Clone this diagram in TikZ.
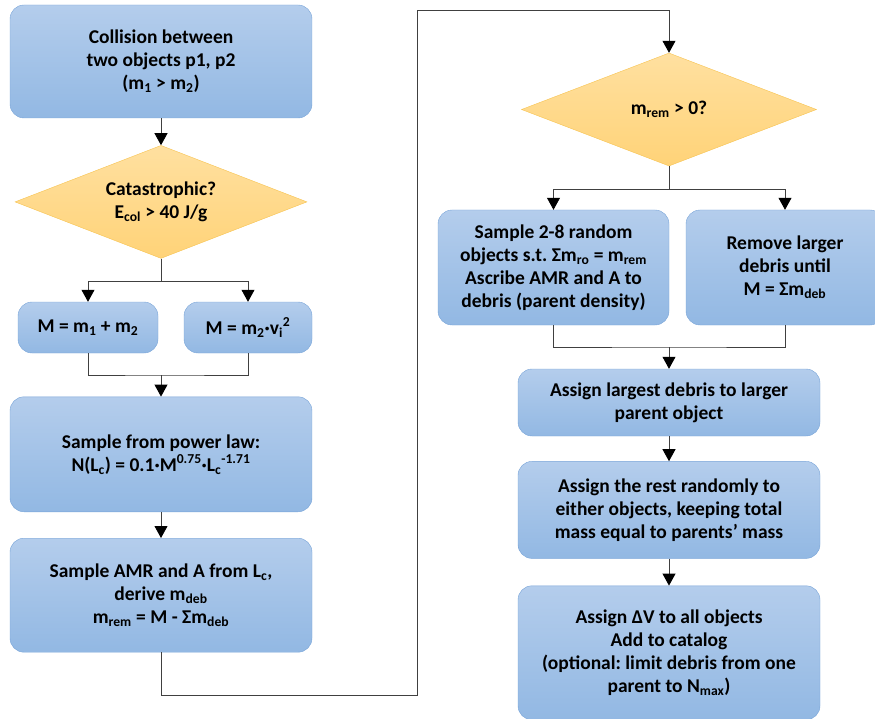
\documentclass[tikz,border=0pt]{standalone}
\usepackage{fontspec}
\setmainfont{Carlito}
\frenchspacing
\usetikzlibrary{positioning, arrows.meta, shapes.geometric}
\definecolor{boxtop}{RGB}{180,205,236}
\definecolor{boxbot}{RGB}{146,184,227}
\definecolor{boxline}{RGB}{120,164,216}
\definecolor{dectop}{RGB}{255,224,160}
\definecolor{decbot}{RGB}{255,211,120}
\definecolor{decline}{RGB}{247,195,80}
\definecolor{wire}{RGB}{64,64,64}
\tikzset{
  box/.style={
    draw=boxline,
    rectangle,
    rounded corners=14pt,
    top color=boxtop,
    bottom color=boxbot,
    align=center,
    inner sep=2pt,
    font=\fontsize{19.5}{23}\selectfont\bfseries
  },
  decision/.style={
    draw=decline,
    diamond,
    aspect=2.6,
    inner sep=0pt,
    top color=dectop,
    bottom color=decbot,
    align=center,
    font=\fontsize{19.5}{23}\selectfont\bfseries
  },
  flow/.style={
    draw=wire,
    line width=0.8pt,
    -{Triangle[width=13pt,length=12pt,black]}
  },
  wireline/.style={
    draw=wire,
    line width=0.8pt
  }
}

\begin{document}
\begin{tikzpicture}[x=1pt, y=1pt]
        \useasboundingbox (0,0) rectangle (875,-719);
        % left column
        \node[box, minimum width=302pt, minimum height=113pt] (coll) at (161,-61.5) {Collision between\\two objects p1, p2\\(m\textsubscript{1} > m\textsubscript{2})};
        \node[decision, minimum width=292pt, minimum height=113pt, below=27pt of coll] (cat) {Catastrophic?\\E\textsubscript{col} > 40 J/g};
        \node[box, minimum width=140pt, minimum height=51pt] (madd) at (88,-327.5) {M = m\textsubscript{1} + m\textsubscript{2}};
        \node[box, minimum width=128pt, minimum height=51pt] (msq) at (248,-327.5) {M = m\textsubscript{2}·v\textsubscript{i}\textsuperscript{2}};
        \node[box, minimum width=302pt, minimum height=115pt, below=138pt of cat] (pl) {Sample from power law:\\N(L\textsubscript{c}) = 0.1·M\textsuperscript{0.75}·L\textsubscript{c}\textsuperscript{-1.71}};
        \node[box, minimum width=302pt, minimum height=114pt, below=26pt of pl] (amr) {Sample AMR and A from L\textsubscript{c},\\derive m\textsubscript{deb}\\m\textsubscript{rem} = M - Σm\textsubscript{deb}};
        \coordinate (join1) at (161,-375);
        \coordinate (loopa) at (417,-695);
        \coordinate (loopb) at (417,-10);
        % right column
        \node[decision, minimum width=295pt, minimum height=113pt] (mrem) at (669,-109.5) {m\textsubscript{rem} > 0?};
        \node[box, minimum width=231pt, minimum height=115pt] (ro) at (553.5,-267.5) {Sample 2-8 random\\objects s.t. Σm\textsubscript{ro} = m\textsubscript{rem}\\Ascribe AMR and A to\\debris (parent density)};
        \node[box, minimum width=198pt, minimum height=115pt] (rmv) at (785,-267.5) {Remove larger\\debris until\\M = Σm\textsubscript{deb}};
        \node[box, minimum width=302pt, minimum height=67pt] (largest) at (669,-402.5) {Assign largest debris to larger\\parent object};
        \node[box, minimum width=302pt, minimum height=97pt, below=25pt of largest] (rest) {Assign the rest randomly to\\either objects, keeping total\\mass equal to parents’ mass};
        \node[box, minimum width=302pt, minimum height=134pt, below=27pt of rest] (dv) {Assign ΔV to all objects\\Add to catalog\\(optional: limit debris from one\\parent to N\textsubscript{max})};
        \coordinate (join2) at (669,-347);

        \draw[flow] (coll) -- (cat);
        \draw[flow] (cat.south) -- ++(0,-23) -| (madd.north);
        \draw[flow] (cat.south) -- ++(0,-23) -| (msq.north);
        \draw[wireline] (madd.south) |- (join1) -| (msq.south);
        \draw[flow] (join1) -- (pl.north);
        \draw[flow] (pl) -- (amr);
        \draw[flow] (amr.south) |- (loopa) -- (loopb) -| (mrem.north);
        \draw[flow] (mrem.south) -- ++(0,-23) -| (ro.north);
        \draw[flow] (mrem.south) -- ++(0,-23) -| (rmv.north);
        \draw[wireline] (ro.south) |- (join2) -| (rmv.south);
        \draw[flow] (join2) -- (largest.north);
        \draw[flow] (largest) -- (rest);
        \draw[flow] (rest) -- (dv);
      \end{tikzpicture}
\end{document}
